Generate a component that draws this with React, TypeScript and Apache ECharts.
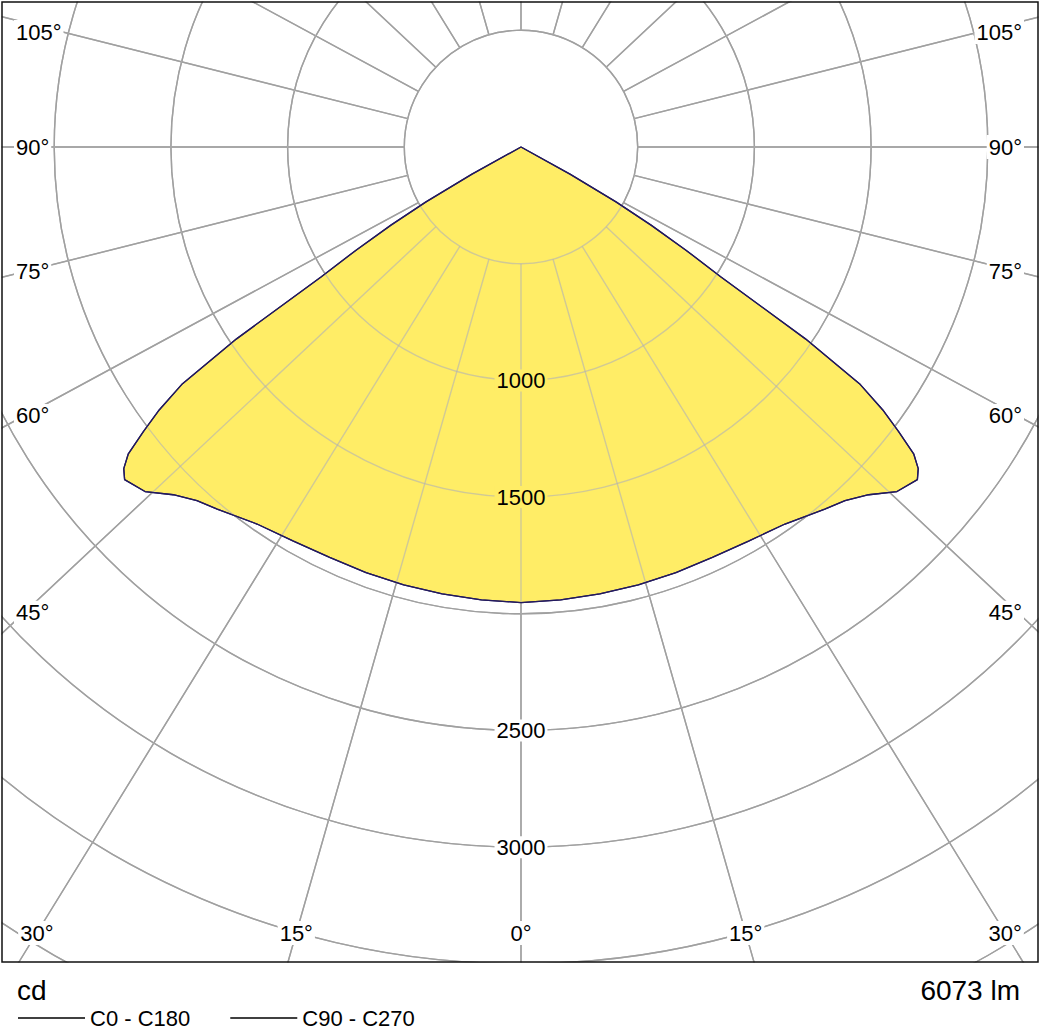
import React, { useEffect, useRef } from 'react';
import * as echarts from 'echarts';

// ---- data ----
const GAMMA = [0, 5, 10, 15, 20, 25, 30, 35, 40, 42.5, 45, 47.5, 50, 51, 52, 53, 54, 55, 56, 57, 58, 59, 60, 61, 62, 70, 80, 90, 100, 110, 120, 130, 140, 150, 160, 170, 180];
const C0_C180 = [1952, 1948, 1944, 1942, 1941, 1940, 1950, 1972, 2025, 2055, 2107, 2185, 2217, 2190, 2135, 2025, 1915, 1775, 1470, 1020, 830, 650, 470, 240, 0, 0, 0, 0, 0, 0, 0, 0, 0, 0, 0, 0, 0];
const C90_C270 = [1952, 1948, 1944, 1942, 1941, 1940, 1950, 1972, 2025, 2055, 2107, 2185, 2217, 2190, 2135, 2025, 1915, 1775, 1470, 1020, 830, 650, 470, 240, 0, 0, 0, 0, 0, 0, 0, 0, 0, 0, 0, 0, 0];
const SERIES_NAMES = ['C0 - C180', 'C90 - C270'];
const RADIUS_LABELS = [1000, 1500, 2500, 3000];
const ANGLE_LABELS = [0, 15, 30, 45, 60, 75, 90, 105];
const UNIT_TEXT = 'cd';
const FLUX_TEXT = '6073 lm';

// ---- layout / style ----
const W = 1042;
const H = 1034;
const CX = 521;
const CY = 147;
const PX_PER_CD = 116.7 / 500;
const R_MIN = 500;
const R_MAX = 4500;
const R_STEP = 500;
const SPOKE_STEP = 15;
const SPOKE_K = 1.067;
const FONT = "'Liberation Sans', Arial, Helvetica, sans-serif";
const FILL = '#FFED66';
const CURVE = '#231a5e';
const GRID_BASE = '#808080';
const GRID_TOP = 'rgba(179,179,179,0.62)';
const FRAME = { x: 2, y: 2, w: 1036, h: 960 };

function spokeValues(): number[] {
  const out: number[] = [];
  for (let a = 0; a < 360; a += SPOKE_STEP) {
    const r = (a * Math.PI) / 180;
    let v = (Math.atan2(SPOKE_K * Math.sin(r), Math.cos(r)) * 180) / Math.PI;
    if (v < 0) v += 360;
    out.push(Math.round(v * 1000) / 1000);
  }
  return out;
}

function curveData(vals: number[]) {
  const right = GAMMA.map((g, i) => [vals[i], g]);
  const left = GAMMA.slice().reverse().map((g, j) => [vals[GAMMA.length - 1 - j], 360 - g]);
  return right.concat(left);
}

function angleLabelElements() {
  const els: any[] = [];
  const SIDE_DX = 497;
  const BOTTOM_DY = 786;
  const BOTTOM_Y = 933;
  const TOP_Y = 32;
  const LEFT_X = 14;
  const RIGHT_X = 1024;
  ANGLE_LABELS.forEach((a) => {
    const r = (a * Math.PI) / 180;
    const sides = a === 0 ? [1] : [-1, 1];
    sides.forEach((side) => {
      const tSide = Math.sin(r) > 0 ? SIDE_DX / (SPOKE_K * Math.sin(r)) : Infinity;
      const tBottom = Math.cos(r) > 0 ? BOTTOM_DY / Math.cos(r) : Infinity;
      let x: number, y: number, align: string;
      if (tBottom <= tSide) {
        x = CX + side * BOTTOM_DY * SPOKE_K * Math.tan(r);
        y = BOTTOM_Y;
        align = 'center';
      } else {
        y = Math.max(TOP_Y, CY + (SIDE_DX * Math.cos(r)) / (SPOKE_K * Math.sin(r)));
        x = side < 0 ? LEFT_X : RIGHT_X;
        align = side < 0 ? 'left' : 'right';
      }
      els.push({
        type: 'text',
        x,
        y,
        z: 102,
        silent: true,
        style: {
          text: a + '°',
          fill: '#000',
          fontSize: 22,
          fontFamily: FONT,
          align,
          verticalAlign: 'middle',
          backgroundColor: '#fff',
          padding: [1, 2],
        },
      });
    });
  });
  return els;
}

export default function App() {
  const ref = useRef<HTMLDivElement>(null);

  useEffect(() => {
    if (!ref.current) return;
    const chart = echarts.init(ref.current, null, { renderer: 'svg' });
    const inner = R_MIN * PX_PER_CD;
    const outer = R_MAX * PX_PER_CD;
    const spokes = spokeValues();
    const i0 = C0_C180[0];

    // polar 0: base grid (under the curve), polar 1: light grid over the fill,
    // polar 2: the data polar (radius from 0 at the centre).
    const angleAxis = [0, 1, 2].map((i) => ({
      polarIndex: i,
      type: 'value',
      min: 0,
      max: 360,
      startAngle: 270,
      clockwise: false,
      axisLine: { show: false },
      axisLabel: { show: false },
      axisTick: { show: false, customValues: spokes },
      splitLine: { show: i < 2, lineStyle: { color: i === 0 ? GRID_BASE : GRID_TOP, width: 1.4 } },
      z: i === 1 ? 5 : 0,
    }));

    const radiusAxis: any[] = [0, 1].map((i) => ({
      polarIndex: i,
      type: 'value',
      min: R_MIN,
      max: R_MAX,
      interval: R_STEP,
      axisLine: { show: false },
      axisTick: { show: false },
      axisLabel:
        i === 0
          ? { show: false }
          : {
              show: true,
              margin: 0,
              align: 'center',
              verticalAlign: 'middle',
              hideOverlap: false,
              formatter: (v: number) =>
                RADIUS_LABELS.indexOf(v) >= 0 ? (v < i0 ? `{a|${v}}` : `{b|${v}}`) : '',
              rich: {
                a: { fontSize: 22, fontFamily: FONT, color: '#000', backgroundColor: FILL, padding: [0, 2] },
                b: { fontSize: 22, fontFamily: FONT, color: '#000', backgroundColor: '#fff', padding: [0, 2] },
              },
            },
      splitLine: { show: true, lineStyle: { color: i === 0 ? GRID_BASE : GRID_TOP, width: 1.4 } },
      z: i === 0 ? 0 : 6,
    }));
    radiusAxis.push({
      polarIndex: 2,
      type: 'value',
      min: 0,
      max: R_MAX,
      interval: R_STEP,
      axisLine: { show: false },
      axisTick: { show: false },
      axisLabel: { show: false },
      splitLine: { show: false },
    });

    const covers = [
      { x: 0, y: FRAME.y + FRAME.h + 0.5, width: W, height: H },
      { x: FRAME.x + FRAME.w + 0.5, y: 0, width: 20, height: H },
      { x: 0, y: 0, width: W, height: FRAME.y - 0.5 },
      { x: 0, y: 0, width: FRAME.x - 0.5, height: H },
    ].map((s) => ({ type: 'rect', z: 100, silent: true, shape: s, style: { fill: '#fff' } }));

    const option: any = {
      animation: false,
      backgroundColor: '#fff',
      polar: [
        { center: [CX, CY], radius: [inner, outer] },
        { center: [CX, CY], radius: [inner, outer] },
        { center: [CX, CY], radius: [0, outer] },
      ],
      angleAxis,
      radiusAxis,
      legend: {
        left: 13,
        top: 1002,
        icon: 'rect',
        itemWidth: 67,
        itemHeight: 1.5,
        itemGap: 40,
        selectedMode: false,
        z: 200,
        data: SERIES_NAMES,
        itemStyle: { borderWidth: 0, color: '#000' },
        textStyle: { fontSize: 22, color: '#000', fontFamily: FONT },
      },
      series: [
        {
          name: SERIES_NAMES[0],
          type: 'line',
          coordinateSystem: 'polar',
          polarIndex: 2,
          data: curveData(C0_C180),
          showSymbol: false,
          symbol: 'none',
          clip: false,
          silent: true,
          lineStyle: { color: CURVE, width: 1.3 },
          itemStyle: { color: '#000' },
          areaStyle: { color: FILL, opacity: 1, origin: 'start' },
          z: 2,
        },
        {
          name: SERIES_NAMES[1],
          type: 'line',
          coordinateSystem: 'polar',
          polarIndex: 2,
          data: curveData(C90_C270),
          showSymbol: false,
          symbol: 'none',
          clip: false,
          silent: true,
          lineStyle: { color: CURVE, width: 1.3 },
          itemStyle: { color: '#000' },
          z: 10,
        },
      ],
      graphic: [
        ...covers,
        {
          type: 'rect',
          z: 101,
          silent: true,
          shape: { x: FRAME.x, y: FRAME.y, width: FRAME.w, height: FRAME.h },
          style: { fill: 'none', stroke: '#111', lineWidth: 1.5 },
        },
        ...angleLabelElements(),
        {
          type: 'text',
          x: 17,
          y: 990,
          z: 102,
          silent: true,
          style: { text: UNIT_TEXT, fill: '#000', fontSize: 28, fontFamily: FONT, align: 'left', verticalAlign: 'middle' },
        },
        {
          type: 'text',
          x: 1020,
          y: 990,
          z: 102,
          silent: true,
          style: { text: FLUX_TEXT, fill: '#000', fontSize: 28, fontFamily: FONT, align: 'right', verticalAlign: 'middle' },
        },
      ],
    };
    chart.setOption(option);
    return () => chart.dispose();
  }, []);

  return (
    <div
      ref={ref}
      style={{ position: 'absolute', left: 0, top: 0, width: W, height: H, background: '#fff' }}
    />
  );
}
